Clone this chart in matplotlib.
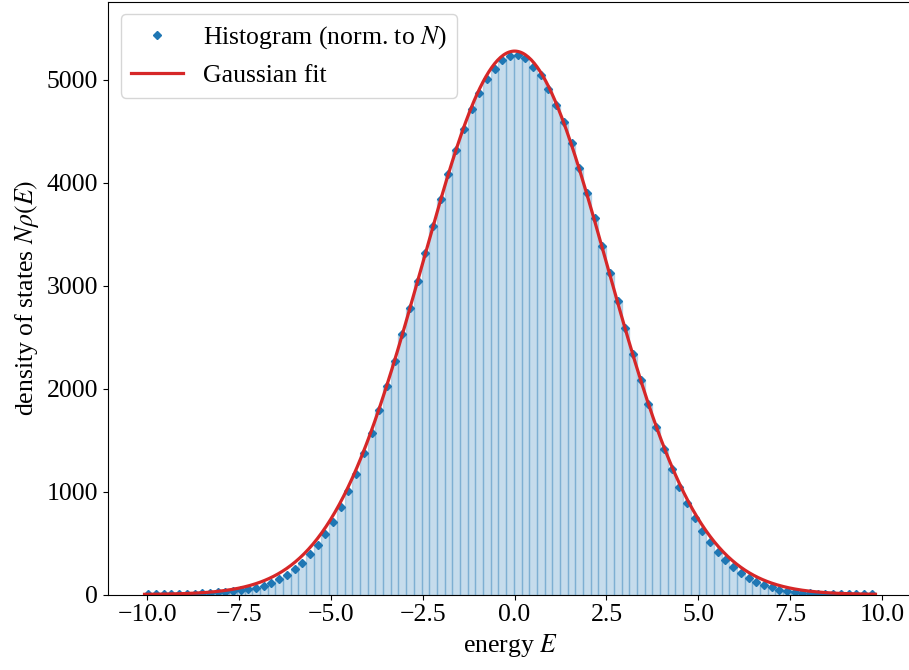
import numpy as np
import matplotlib.pyplot as plt

plt.rcParams['font.family'] = ['Liberation Serif', 'DejaVu Serif']
plt.rcParams['mathtext.fontset'] = 'stix'
plt.rcParams['font.size'] = 18.5

# histogram of energies: 95 bins between E_min and E_max, counts per bin
e_min, e_max = -10.07, 9.82
counts = [
    1, 2, 2, 3, 4, 6, 8, 11, 15, 20,
    27, 34, 43, 52, 66, 86, 112, 148, 193, 248,
    309, 394, 481, 588, 708, 847, 1006, 1174, 1372, 1573,
    1793, 2026, 2269, 2529, 2787, 3050, 3322, 3585, 3840, 4085,
    4320, 4521, 4715, 4871, 5007, 5104, 5190, 5233, 5243, 5211,
    5130, 5049, 4910, 4757, 4595, 4385, 4142, 3905, 3656, 3390,
    3122, 2855, 2587, 2334, 2081, 1851, 1631, 1414, 1217, 1042,
    886, 746, 620, 507, 416, 335, 264, 206, 157, 121,
    95, 70, 44, 31, 22, 16, 12, 9, 7, 5,
    4, 3, 2, 2, 1,
]

# Gaussian fit parameters
fit_amp = 5280.0
fit_mu = 0.0
fit_sigma = 2.516

edges = np.linspace(e_min, e_max, len(counts) + 1)
centers = 0.5 * (edges[:-1] + edges[1:])
width = edges[1] - edges[0]

E = np.linspace(e_min, e_max, 500)
gauss = fit_amp * np.exp(-(E - fit_mu) ** 2 / (2 * fit_sigma ** 2))

fig = plt.figure(figsize=(9.09, 6.70), dpi=100)
ax = fig.add_axes([108 / 909, 1 - 594.5 / 670, 804 / 909, 593 / 670])

ax.bar(centers, counts, width=width, color='C0', alpha=0.25,
       edgecolor='C0', linewidth=1.0)
ax.plot(centers, counts, 'D', color='C0', markersize=4,
        label='Histogram (norm. to $N$)')
ax.plot(E, gauss, color='#d62728', linewidth=2.3, label='Gaussian fit')

ax.set_xlim(-11.064, 10.814)
ax.set_ylim(0, 5762)
ax.set_xticks(np.arange(-10, 10.1, 2.5))
ax.set_xticklabels([f'{t:.1f}'.replace('-', '\u2212') for t in np.arange(-10, 10.1, 2.5)])
ax.set_yticks(np.arange(0, 5001, 1000))
ax.set_xlabel('energy $E$')
ax.set_ylabel('density of states $N\\rho(E)$')
ax.legend(loc='upper left')

fig.savefig('out.png', dpi=100)
